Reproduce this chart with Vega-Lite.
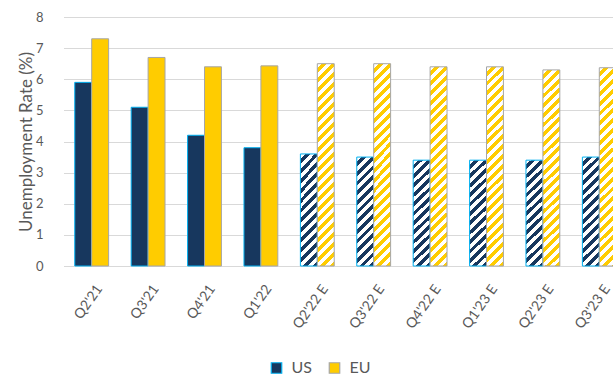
{
  "$schema": "https://vega.github.io/schema/vega-lite/v6.json",
  "padding": {"left": 16.5, "top": 11, "right": 0, "bottom": 0},
  "width": {"step": 56.4, "for": "position"},
  "height": 249,
  "config": {
    "font": "Lato",
    "view": {"stroke": null},
    "axis": {"labelFont": "Lato", "titleFont": "Lato", "labelColor": "#595959", "titleColor": "#595959"},
    "legend": {"labelFont": "Lato"}
  },
  "data": {
    "values": [
      {"quarter": "Q2'21", "country": "US", "rate": 5.9, "est": false},
      {"quarter": "Q2'21", "country": "EU", "rate": 7.3, "est": false},
      {"quarter": "Q3'21", "country": "US", "rate": 5.1, "est": false},
      {"quarter": "Q3'21", "country": "EU", "rate": 6.7, "est": false},
      {"quarter": "Q4'21", "country": "US", "rate": 4.2, "est": false},
      {"quarter": "Q4'21", "country": "EU", "rate": 6.4, "est": false},
      {"quarter": "Q1'22", "country": "US", "rate": 3.8, "est": false},
      {"quarter": "Q1'22", "country": "EU", "rate": 6.43, "est": false},
      {"quarter": "Q2'22 E", "country": "US", "rate": 3.6, "est": true},
      {"quarter": "Q2'22 E", "country": "EU", "rate": 6.5, "est": true},
      {"quarter": "Q3'22 E", "country": "US", "rate": 3.5, "est": true},
      {"quarter": "Q3'22 E", "country": "EU", "rate": 6.5, "est": true},
      {"quarter": "Q4'22 E", "country": "US", "rate": 3.4, "est": true},
      {"quarter": "Q4'22 E", "country": "EU", "rate": 6.4, "est": true},
      {"quarter": "Q1'23 E", "country": "US", "rate": 3.4, "est": true},
      {"quarter": "Q1'23 E", "country": "EU", "rate": 6.4, "est": true},
      {"quarter": "Q2'23 E", "country": "US", "rate": 3.4, "est": true},
      {"quarter": "Q2'23 E", "country": "EU", "rate": 6.3, "est": true},
      {"quarter": "Q3'23 E", "country": "US", "rate": 3.5, "est": true},
      {"quarter": "Q3'23 E", "country": "EU", "rate": 6.37, "est": true}
    ]
  },
  "mark": {"type": "bar", "strokeWidth": 1},
  "encoding": {
    "x": {
      "field": "quarter", "type": "nominal",
      "scale": {"domain": ["Q2'21", "Q3'21", "Q4'21", "Q1'22", "Q2'22 E", "Q3'22 E", "Q4'22 E", "Q1'23 E", "Q2'23 E", "Q3'23 E"], "paddingInner": 0.4, "paddingOuter": 0.2},
      "axis": {"title": null, "labelAngle": -55, "labelFontSize": 14, "labelPadding": 20, "labelOffset": 8, "ticks": false, "domain": true, "domainColor": "#D9D9D9", "grid": false}
    },
    "xOffset": {"field": "country", "type": "nominal", "scale": {"domain": ["US", "EU"], "paddingInner": 0, "paddingOuter": 0}},
    "y": {
      "field": "rate", "type": "quantitative",
      "scale": {"domain": [0, 8], "nice": false},
      "axis": {"title": "Unemployment Rate (%)", "titleFontSize": 17, "titleFontWeight": "normal", "titlePadding": 0, "labelFontSize": 13, "labelPadding": 20.5, "values": [0, 1, 2, 3, 4, 5, 6, 7, 8], "ticks": false, "domain": false, "gridColor": "#D9D9D9", "gridWidth": 1}
    },
    "color": {
      "condition": [
        {"test": "datum.est && datum.country === 'US'", "value": {"gradient": "linear", "x1": 0, "y1": 0, "x2": 0.174, "y2": 1.127, "stops": [
          {"offset": 0, "color": "#FFFFFF"}, {"offset": 0.0385, "color": "#FFFFFF"}, {"offset": 0.0385, "color": "#17375E"}, {"offset": 0.0769, "color": "#17375E"},
          {"offset": 0.0769, "color": "#FFFFFF"}, {"offset": 0.1154, "color": "#FFFFFF"}, {"offset": 0.1154, "color": "#17375E"}, {"offset": 0.1538, "color": "#17375E"},
          {"offset": 0.1538, "color": "#FFFFFF"}, {"offset": 0.1923, "color": "#FFFFFF"}, {"offset": 0.1923, "color": "#17375E"}, {"offset": 0.2308, "color": "#17375E"},
          {"offset": 0.2308, "color": "#FFFFFF"}, {"offset": 0.2692, "color": "#FFFFFF"}, {"offset": 0.2692, "color": "#17375E"}, {"offset": 0.3077, "color": "#17375E"},
          {"offset": 0.3077, "color": "#FFFFFF"}, {"offset": 0.3462, "color": "#FFFFFF"}, {"offset": 0.3462, "color": "#17375E"}, {"offset": 0.3846, "color": "#17375E"},
          {"offset": 0.3846, "color": "#FFFFFF"}, {"offset": 0.4231, "color": "#FFFFFF"}, {"offset": 0.4231, "color": "#17375E"}, {"offset": 0.4615, "color": "#17375E"},
          {"offset": 0.4615, "color": "#FFFFFF"}, {"offset": 0.5, "color": "#FFFFFF"}, {"offset": 0.5, "color": "#17375E"}, {"offset": 0.5385, "color": "#17375E"},
          {"offset": 0.5385, "color": "#FFFFFF"}, {"offset": 0.5769, "color": "#FFFFFF"}, {"offset": 0.5769, "color": "#17375E"}, {"offset": 0.6154, "color": "#17375E"},
          {"offset": 0.6154, "color": "#FFFFFF"}, {"offset": 0.6538, "color": "#FFFFFF"}, {"offset": 0.6538, "color": "#17375E"}, {"offset": 0.6923, "color": "#17375E"},
          {"offset": 0.6923, "color": "#FFFFFF"}, {"offset": 0.7308, "color": "#FFFFFF"}, {"offset": 0.7308, "color": "#17375E"}, {"offset": 0.7692, "color": "#17375E"},
          {"offset": 0.7692, "color": "#FFFFFF"}, {"offset": 0.8077, "color": "#FFFFFF"}, {"offset": 0.8077, "color": "#17375E"}, {"offset": 0.8462, "color": "#17375E"},
          {"offset": 0.8462, "color": "#FFFFFF"}, {"offset": 0.8846, "color": "#FFFFFF"}, {"offset": 0.8846, "color": "#17375E"}, {"offset": 0.9231, "color": "#17375E"},
          {"offset": 0.9231, "color": "#FFFFFF"}, {"offset": 0.9615, "color": "#FFFFFF"}, {"offset": 0.9615, "color": "#17375E"}, {"offset": 1, "color": "#17375E"}
        ]}},
        {"test": "datum.est && datum.country === 'EU'", "value": {"gradient": "linear", "x1": 0, "y1": 0, "x2": 0.0909, "y2": 1.0767, "stops": [
          {"offset": 0, "color": "#FFFFFF"}, {"offset": 0.0227, "color": "#FFFFFF"}, {"offset": 0.0227, "color": "#FFCC00"}, {"offset": 0.0455, "color": "#FFCC00"},
          {"offset": 0.0455, "color": "#FFFFFF"}, {"offset": 0.0682, "color": "#FFFFFF"}, {"offset": 0.0682, "color": "#FFCC00"}, {"offset": 0.0909, "color": "#FFCC00"},
          {"offset": 0.0909, "color": "#FFFFFF"}, {"offset": 0.1136, "color": "#FFFFFF"}, {"offset": 0.1136, "color": "#FFCC00"}, {"offset": 0.1364, "color": "#FFCC00"},
          {"offset": 0.1364, "color": "#FFFFFF"}, {"offset": 0.1591, "color": "#FFFFFF"}, {"offset": 0.1591, "color": "#FFCC00"}, {"offset": 0.1818, "color": "#FFCC00"},
          {"offset": 0.1818, "color": "#FFFFFF"}, {"offset": 0.2045, "color": "#FFFFFF"}, {"offset": 0.2045, "color": "#FFCC00"}, {"offset": 0.2273, "color": "#FFCC00"},
          {"offset": 0.2273, "color": "#FFFFFF"}, {"offset": 0.25, "color": "#FFFFFF"}, {"offset": 0.25, "color": "#FFCC00"}, {"offset": 0.2727, "color": "#FFCC00"},
          {"offset": 0.2727, "color": "#FFFFFF"}, {"offset": 0.2955, "color": "#FFFFFF"}, {"offset": 0.2955, "color": "#FFCC00"}, {"offset": 0.3182, "color": "#FFCC00"},
          {"offset": 0.3182, "color": "#FFFFFF"}, {"offset": 0.3409, "color": "#FFFFFF"}, {"offset": 0.3409, "color": "#FFCC00"}, {"offset": 0.3636, "color": "#FFCC00"},
          {"offset": 0.3636, "color": "#FFFFFF"}, {"offset": 0.3864, "color": "#FFFFFF"}, {"offset": 0.3864, "color": "#FFCC00"}, {"offset": 0.4091, "color": "#FFCC00"},
          {"offset": 0.4091, "color": "#FFFFFF"}, {"offset": 0.4318, "color": "#FFFFFF"}, {"offset": 0.4318, "color": "#FFCC00"}, {"offset": 0.4545, "color": "#FFCC00"},
          {"offset": 0.4545, "color": "#FFFFFF"}, {"offset": 0.4773, "color": "#FFFFFF"}, {"offset": 0.4773, "color": "#FFCC00"}, {"offset": 0.5, "color": "#FFCC00"},
          {"offset": 0.5, "color": "#FFFFFF"}, {"offset": 0.5227, "color": "#FFFFFF"}, {"offset": 0.5227, "color": "#FFCC00"}, {"offset": 0.5455, "color": "#FFCC00"},
          {"offset": 0.5455, "color": "#FFFFFF"}, {"offset": 0.5682, "color": "#FFFFFF"}, {"offset": 0.5682, "color": "#FFCC00"}, {"offset": 0.5909, "color": "#FFCC00"},
          {"offset": 0.5909, "color": "#FFFFFF"}, {"offset": 0.6136, "color": "#FFFFFF"}, {"offset": 0.6136, "color": "#FFCC00"}, {"offset": 0.6364, "color": "#FFCC00"},
          {"offset": 0.6364, "color": "#FFFFFF"}, {"offset": 0.6591, "color": "#FFFFFF"}, {"offset": 0.6591, "color": "#FFCC00"}, {"offset": 0.6818, "color": "#FFCC00"},
          {"offset": 0.6818, "color": "#FFFFFF"}, {"offset": 0.7045, "color": "#FFFFFF"}, {"offset": 0.7045, "color": "#FFCC00"}, {"offset": 0.7273, "color": "#FFCC00"},
          {"offset": 0.7273, "color": "#FFFFFF"}, {"offset": 0.75, "color": "#FFFFFF"}, {"offset": 0.75, "color": "#FFCC00"}, {"offset": 0.7727, "color": "#FFCC00"},
          {"offset": 0.7727, "color": "#FFFFFF"}, {"offset": 0.7955, "color": "#FFFFFF"}, {"offset": 0.7955, "color": "#FFCC00"}, {"offset": 0.8182, "color": "#FFCC00"},
          {"offset": 0.8182, "color": "#FFFFFF"}, {"offset": 0.8409, "color": "#FFFFFF"}, {"offset": 0.8409, "color": "#FFCC00"}, {"offset": 0.8636, "color": "#FFCC00"},
          {"offset": 0.8636, "color": "#FFFFFF"}, {"offset": 0.8864, "color": "#FFFFFF"}, {"offset": 0.8864, "color": "#FFCC00"}, {"offset": 0.9091, "color": "#FFCC00"},
          {"offset": 0.9091, "color": "#FFFFFF"}, {"offset": 0.9318, "color": "#FFFFFF"}, {"offset": 0.9318, "color": "#FFCC00"}, {"offset": 0.9545, "color": "#FFCC00"},
          {"offset": 0.9545, "color": "#FFFFFF"}, {"offset": 0.9773, "color": "#FFFFFF"}, {"offset": 0.9773, "color": "#FFCC00"}, {"offset": 1, "color": "#FFCC00"}
        ]}}
      ],
      "field": "country", "type": "nominal",
      "scale": {"domain": ["US", "EU"], "range": ["#17375E", "#FFCC00"]},
      "legend": {"title": null, "orient": "none", "legendX": 205, "legendY": 343, "direction": "horizontal", "symbolType": "square", "symbolSize": 110, "symbolStrokeWidth": 1.2, "labelFontSize": 16, "labelColor": "#595959", "labelOffset": 7, "columnPadding": 14}
    },
    "stroke": {
      "field": "country", "type": "nominal",
      "scale": {"domain": ["US", "EU"], "range": ["#00B0F0", "#A6A6A6"]},
      "legend": {"title": null, "orient": "none", "legendX": 205, "legendY": 343, "direction": "horizontal", "symbolType": "square", "symbolSize": 110, "symbolStrokeWidth": 1.2, "labelFontSize": 16, "labelColor": "#595959", "labelOffset": 7, "columnPadding": 14}
    }
  }
}
